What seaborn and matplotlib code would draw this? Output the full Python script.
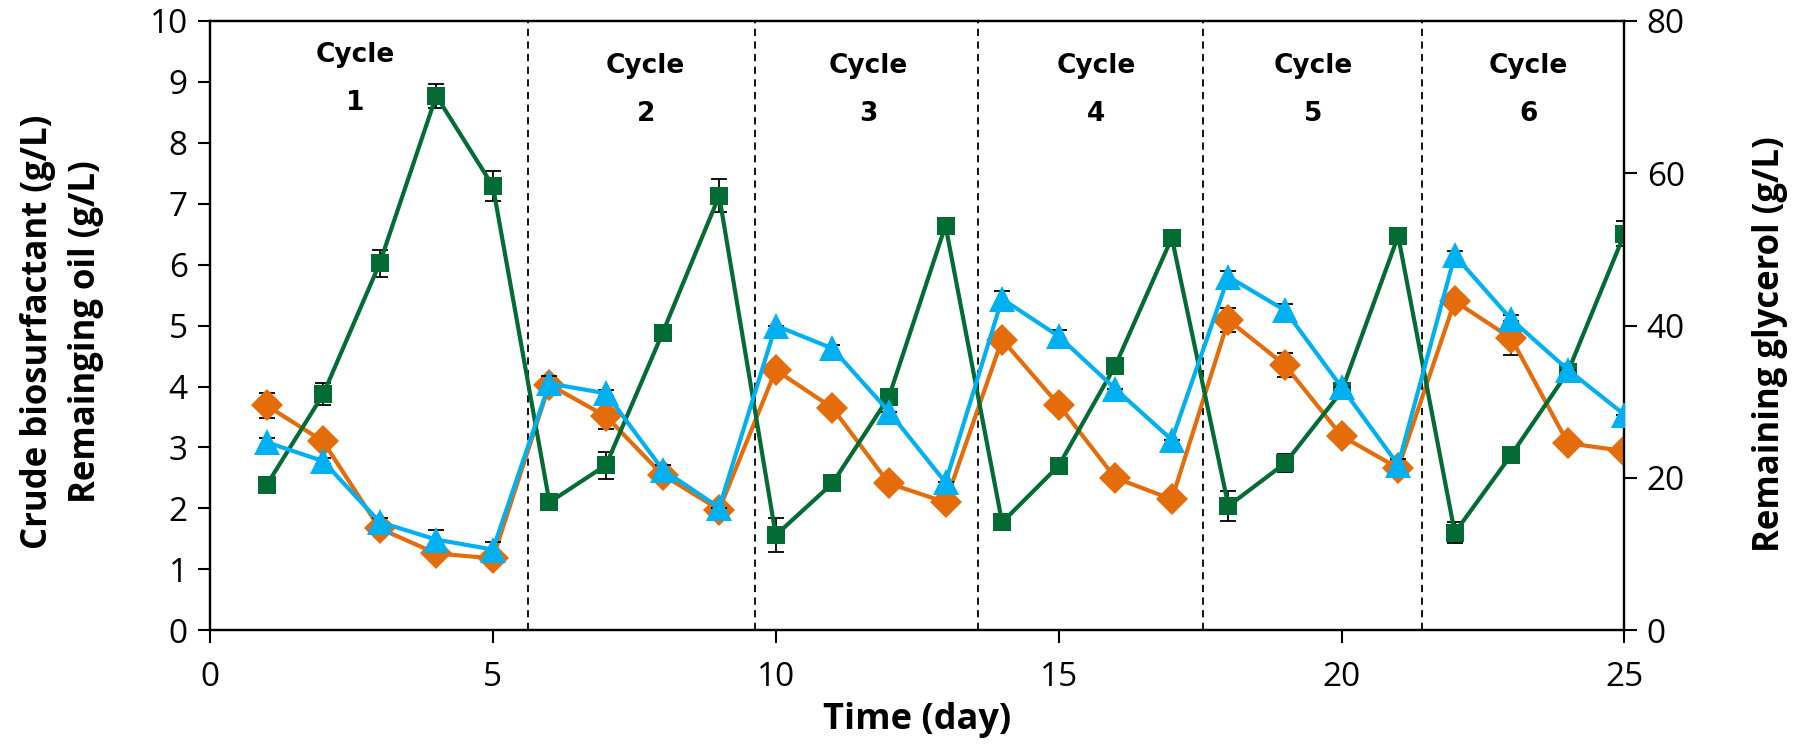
import numpy as np
import pandas as pd
import matplotlib
matplotlib.use("Agg")
import matplotlib.pyplot as plt
import seaborn as sns

# values
days = list(range(1, 26))

biosurfactant = [2.38, 3.87, 6.02, 8.77, 7.29, 2.10, 2.71, 4.88, 7.13,
                 1.56, 2.41, 3.83, 6.64, 1.77, 2.70, 4.34, 6.44,
                 2.04, 2.74, 3.92, 6.47, 1.60, 2.88, 4.24, 6.51]
biosurfactant_err = [0.10, 0.18, 0.22, 0.20, 0.24, 0.00, 0.22, 0.00, 0.27,
                     0.28, 0.00, 0.06, 0.00, 0.05, 0.00, 0.00, 0.10,
                     0.24, 0.15, 0.10, 0.00, 0.17, 0.00, 0.00, 0.20]

oil = [3.69, 3.10, 1.67, 1.26, 1.18, 4.03, 3.51, 2.55, 1.98,
       4.27, 3.65, 2.41, 2.10, 4.77, 3.70, 2.50, 2.15,
       5.09, 4.35, 3.19, 2.66, 5.40, 4.79, 3.07, 2.94]
oil_err = [0.20, 0.05, 0.05, 0.05, 0.00, 0.12, 0.20, 0.05, 0.00,
           0.00, 0.08, 0.00, 0.00, 0.00, 0.08, 0.00, 0.07,
           0.20, 0.20, 0.08, 0.05, 0.08, 0.28, 0.00, 0.00]

glycerol = [24.7, 22.2, 14.2, 11.9, 10.6, 32.4, 31.1, 21.1, 16.1,
            40.0, 37.0, 28.7, 19.4, 43.5, 38.6, 31.7, 25.0,
            46.4, 42.0, 31.9, 21.7, 49.2, 40.8, 34.2, 28.3]
glycerol_err = [0.6, 0.4, 0.6, 1.2, 1.0, 1.0, 0.4, 0.6, 0.0,
                0.0, 0.5, 0.0, 0.0, 1.0, 0.8, 0.0, 0.0,
                0.8, 0.8, 0.0, 0.8, 0.6, 0.6, 0.0, 0.0]

cycle_bounds = [5.62, 9.63, 13.57, 17.55, 21.42]
cycle_names = ["Cycle\n1", "Cycle\n2", "Cycle\n3", "Cycle\n4", "Cycle\n5", "Cycle\n6"]
cycle_x = [2.57, 7.7, 11.64, 15.66, 19.5, 23.3]
cycle_y = [9.05, 8.86, 8.86, 8.86, 8.86, 8.86]

green = "#036B34"
orange = "#E46C0A"
blue = "#00B0F0"

sns.set_style("ticks")
plt.rcParams['font.family'] = ['Open Sans', 'DejaVu Sans']
plt.rcParams.update({"text.color": "black", "axes.labelcolor": "black",
                     "xtick.color": "black", "ytick.color": "black"})

fig, ax = plt.subplots(figsize=(17.99, 7.45), dpi=100)
fig.subplots_adjust(left=0.1167, right=0.903, top=0.972, bottom=0.154)
ax2 = ax.twinx()

df = pd.DataFrame({"day": days, "bio": biosurfactant, "oil": oil, "gly": glycerol})

# orange - remaining oil
sns.lineplot(data=df, x="day", y="oil", ax=ax, color=orange, lw=3,
             marker="D", markersize=16, markeredgewidth=0, zorder=3)
ax.errorbar(days, oil, yerr=oil_err, fmt="none", ecolor="black",
            elinewidth=1.3, capsize=6, capthick=1.3, zorder=2)

# green - crude biosurfactant
sns.lineplot(data=df, x="day", y="bio", ax=ax, color=green, lw=3,
             marker="s", markersize=13, markeredgewidth=0, zorder=4)
ax.errorbar(days, biosurfactant, yerr=biosurfactant_err, fmt="none", ecolor="black",
            elinewidth=1.3, capsize=6, capthick=1.3, zorder=2)

# blue - remaining glycerol on the right axis
sns.lineplot(data=df, x="day", y="gly", ax=ax2, color=blue, lw=3,
             marker="^", markersize=19, markeredgewidth=0, zorder=3)
ax2.errorbar(days, glycerol, yerr=glycerol_err, fmt="none", ecolor="black",
             elinewidth=1.3, capsize=6, capthick=1.3, zorder=2)

for b in cycle_bounds:
    ax.axvline(b, ymin=0, ymax=1, color="black", ls=(0, (4, 3)), lw=1.3, zorder=1)

for name, cx, cy in zip(cycle_names, cycle_x, cycle_y):
    ax.text(cx, cy, name, ha="center", va="center", fontsize=19,
            fontweight="bold", linespacing=2.1, family="DejaVu Sans")

ax.set_xlim(0, 25)
ax.set_ylim(0, 10)
ax2.set_ylim(0, 80)
ax.set_xticks([0, 5, 10, 15, 20, 25])
ax.set_yticks(range(0, 11))
ax2.set_yticks([0, 20, 40, 60, 80])

ax.set_xlabel("Time (day)", fontsize=26, fontweight="bold")
ax.xaxis.label.set_va("baseline")
ax.xaxis.set_label_coords(0.5, -0.162)
ax.set_ylabel("Crude biosurfactant (g/L)\nRemainging oil (g/L)", fontsize=25,
              fontweight="bold", linespacing=1.45)
ax.yaxis.set_label_coords(-0.075, 0.49)
ax2.set_ylabel("Remaining glycerol (g/L)", fontsize=25, fontweight="bold")
ax2.yaxis.set_label_coords(1.09, 0.47)

for a in (ax, ax2):
    a.tick_params(labelsize=24, length=9, width=1.5, direction="out", pad=7)
    for s in a.spines.values():
        s.set_linewidth(1.6)
        s.set_color("black")
ax.tick_params(axis="x", pad=13)

plt.savefig("out.png", dpi=100)
